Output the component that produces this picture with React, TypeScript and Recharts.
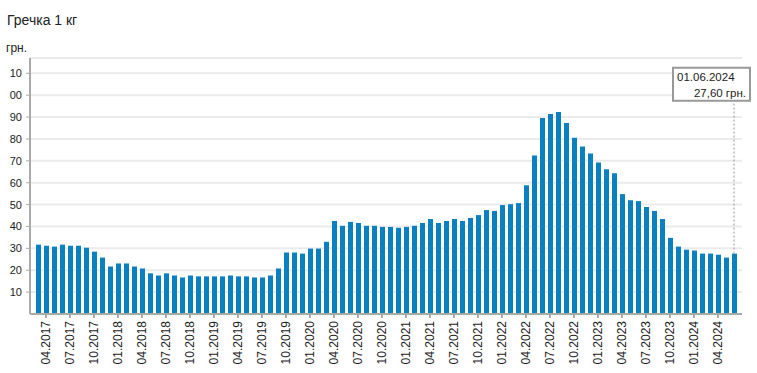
import { Bar, BarChart, CartesianGrid, ReferenceDot, ReferenceLine, XAxis, YAxis } from "recharts";

const months = [
	"03.2017", "04.2017", "05.2017", "06.2017", "07.2017", "08.2017", "09.2017", "10.2017", "11.2017", "12.2017",
	"01.2018", "02.2018", "03.2018", "04.2018", "05.2018", "06.2018", "07.2018", "08.2018", "09.2018", "10.2018", "11.2018", "12.2018",
	"01.2019", "02.2019", "03.2019", "04.2019", "05.2019", "06.2019", "07.2019", "08.2019", "09.2019", "10.2019", "11.2019", "12.2019",
	"01.2020", "02.2020", "03.2020", "04.2020", "05.2020", "06.2020", "07.2020", "08.2020", "09.2020", "10.2020", "11.2020", "12.2020",
	"01.2021", "02.2021", "03.2021", "04.2021", "05.2021", "06.2021", "07.2021", "08.2021", "09.2021", "10.2021", "11.2021", "12.2021",
	"01.2022", "02.2022", "03.2022", "04.2022", "05.2022", "06.2022", "07.2022", "08.2022", "09.2022", "10.2022", "11.2022", "12.2022",
	"01.2023", "02.2023", "03.2023", "04.2023", "05.2023", "06.2023", "07.2023", "08.2023", "09.2023", "10.2023", "11.2023", "12.2023",
	"01.2024", "02.2024", "03.2024", "04.2024", "05.2024", "06.2024",
];

const prices = [
	31.7, 31.2, 30.8, 31.7, 31.2, 31.2, 30.3, 28.5, 25.8, 21.7,
	23.1, 23.1, 21.7, 20.8, 18.6, 17.6, 18.6, 17.6, 16.7, 17.6, 17.2, 17.2,
	17.2, 17.2, 17.6, 17.2, 17.2, 16.7, 16.7, 17.6, 20.8, 28.1, 28.1, 27.6,
	29.9, 29.9, 33.0, 42.5, 40.3, 42.1, 41.6, 40.3, 40.3, 39.8, 39.8, 39.4,
	39.8, 40.3, 41.6, 43.4, 41.6, 42.5, 43.4, 42.5, 43.9, 45.2, 47.5, 47.1,
	49.8, 50.2, 50.7, 58.8, 72.4, 89.6, 91.4, 92.3, 87.3, 80.5, 76.5, 73.3,
	69.2, 66.1, 64.3, 54.8, 52.0, 51.6, 48.9, 47.1, 43.4, 34.8, 30.8, 29.4,
	29.0, 27.6, 27.6, 27.1, 25.8, 27.6,
];

const tickLabels = [
	"04.2017", "07.2017", "10.2017", "01.2018", "04.2018", "07.2018", "10.2018",
	"01.2019", "04.2019", "07.2019", "10.2019", "01.2020", "04.2020", "07.2020",
	"10.2020", "01.2021", "04.2021", "07.2021", "10.2021", "01.2022", "04.2022",
	"07.2022", "10.2022", "01.2023", "04.2023", "07.2023", "10.2023", "01.2024", "04.2024",
];

const yTicks = [10, 20, 30, 40, 50, 60, 70, 80, 90, 100, 110];

const lastMonth = "06.2024";
const lastPrice = 27.6;
const lastDate = "01.06.2024";
const lastLabel = "27,60 грн.";

const data = months.map((month, i) => ({ month, price: prices[i] }));

const FONT = "'Liberation Sans', Arial, sans-serif";
const tickSet = new Set(tickLabels);

const MonthTick = ({ x, y, payload }: any) => {
	if (!tickSet.has(payload.value)) return null;
	return (
		<g>
			<line x1={x} y1={y} x2={x} y2={y + 4} stroke="#aaa" strokeWidth={2} />
			<text
				x={x}
				y={y + 7}
				transform={`rotate(-90 ${x} ${y + 7})`}
				textAnchor="end"
				dy="0.36em"
				fontSize={12}
				fontFamily={FONT}
				fill="#222"
			>
				{payload.value}
			</text>
		</g>
	);
};

const PriceBox = ({ cx, cy }: any) => {
	if (cx == null || cy == null) return null;
	return (
		<g>
			<rect x={cx - 61} y={cy - 34} width={77} height={33} fill="#fff" stroke="#999" strokeWidth={2} />
			<text x={cx - 57} y={cy - 21} fontSize={11.5} fontFamily={FONT} fill="#222">
				{lastDate}
			</text>
			<text x={cx + 12} y={cy - 5} textAnchor="end" fontSize={11.5} fontFamily={FONT} fill="#222">
				{lastLabel}
			</text>
		</g>
	);
};

export default function App() {
	return (
		<div style={{ position: "absolute", left: 0, top: 0, width: 757, height: 373, background: "#fff" }}>
			<BarChart width={757} height={373} data={data} margin={{ top: 58, right: 15, bottom: 0, left: 0 }}>
				<CartesianGrid vertical={false} stroke="#ebebeb" strokeWidth={2} />
				<XAxis
					dataKey="month"
					interval={0}
					height={59}
					tickLine={false}
					tickSize={0}
					tickMargin={0}
					tick={<MonthTick />}
					axisLine={{ stroke: "#aaa", strokeWidth: 2 }}
					padding={{ left: 4, right: 4 }}
				/>
				<YAxis
					width={30}
					domain={[0, 117]}
					ticks={yTicks}
					interval={0}
					tickSize={4}
					tickMargin={4}
					tickFormatter={(v: number) => String(v).slice(-2)}
					tick={{ fontSize: 11, fontFamily: FONT, fill: "#222" }}
					tickLine={{ stroke: "#aaa" }}
					axisLine={{ stroke: "#aaa", strokeWidth: 2 }}
				/>
				<Bar dataKey="price" fill="#0a80c0" barSize={5} isAnimationActive={false} />
				<ReferenceLine
					segment={[
						{ x: lastMonth, y: lastPrice },
						{ x: lastMonth, y: 97 },
					]}
					stroke="#999"
					strokeDasharray="2 2"
				/>
				<ReferenceDot x={lastMonth} y={97} shape={<PriceBox />} />
			</BarChart>
			<svg
				width={757}
				height={60}
				style={{ position: "absolute", left: 0, top: 0, pointerEvents: "none" }}
			>
				<text x={7} y={25} fontSize={14} fontFamily={FONT} fill="#222">
					Гречка 1 кг
				</text>
				<text x={6} y={52} fontSize={12} fontFamily={FONT} fill="#222">
					грн.
				</text>
			</svg>
		</div>
	);
}
